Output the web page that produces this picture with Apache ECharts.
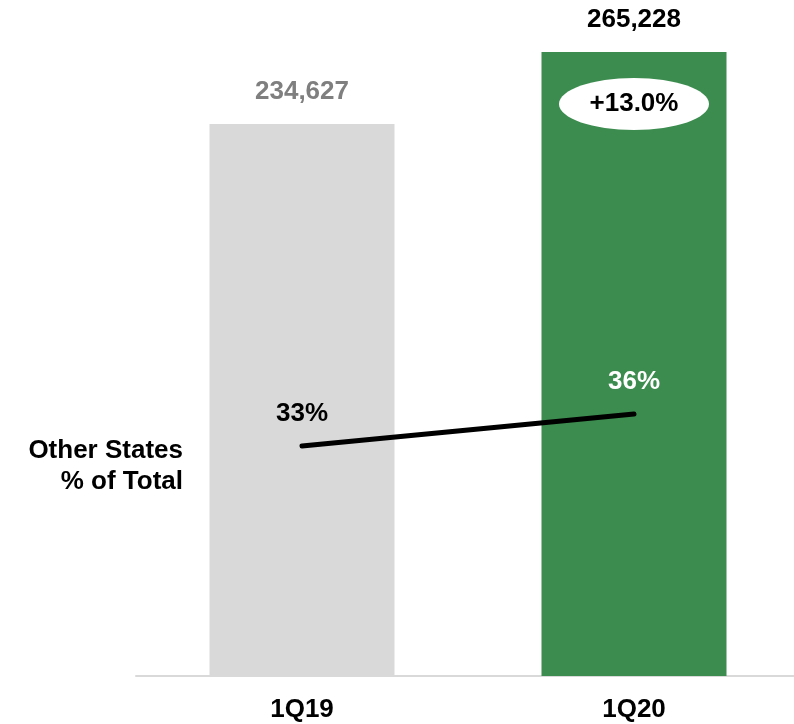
<!DOCTYPE html>
<html>
<head>
<meta charset="utf-8">
<script src="https://cdn.jsdelivr.net/npm/echarts@6/dist/echarts.min.js"></script>
<style>
  html, body { margin: 0; padding: 0; background: #ffffff; }
  #chart { width: 794px; height: 724px; }
</style>
</head>
<body>
<div id="chart"></div>
<script>
// Quarterly totals and the share from other states
const quarters = ['1Q19', '1Q20'];
const totals = [234627, 265228];
const otherStatesPct = [33, 36];
const sideLabel = ['Other States', '% of Total'];

const FONT = '"Liberation Sans", Arial, sans-serif';
const FS = 26;
const GREEN = '#3b8c4e';
const GREY = '#d9d9d9';

const fmt = v => v.toLocaleString('en-US');
const growth = (totals[1] / totals[0] - 1) * 100;
const growthText = (growth >= 0 ? '+' : '') + growth.toFixed(1) + '%';

const chart = echarts.init(document.getElementById('chart'), null, { renderer: 'canvas' });

const option = {
  animation: false,
  backgroundColor: '#ffffff',
  grid: { left: 136, width: 664, top: 52, bottom: 48, containLabel: false, outerBoundsMode: 'none' },
  xAxis: {
    type: 'category',
    data: quarters,
    axisTick: { show: false },
    axisLine: { show: true, lineStyle: { color: GREY, width: 2 } },
    axisLabel: { color: '#000', fontFamily: FONT, fontWeight: 'bold', fontSize: FS, margin: 21 }
  },
  yAxis: [
    { type: 'value', min: 0, max: totals[1], show: false, splitLine: { show: false } },
    { type: 'value', min: 11.4, max: 70, show: false, splitLine: { show: false } }
  ],
  series: [
    {
      type: 'bar',
      yAxisIndex: 0,
      barWidth: 185,
      data: totals.map((v, i) => ({
        value: v,
        itemStyle: { color: i === 0 ? GREY : GREEN },
        label: { color: i === 0 ? '#7f7f7f' : '#000' }
      })),
      label: {
        show: true,
        position: 'top',
        distance: 19,
        fontFamily: FONT,
        fontWeight: 'bold',
        fontSize: FS,
        formatter: p => fmt(p.value)
      }
    },
    {
      type: 'line',
      yAxisIndex: 1,
      data: otherStatesPct.map((v, i) => ({
        value: v,
        label: { color: i === 0 ? '#000' : '#fff' }
      })),
      symbol: 'circle',
      symbolSize: 1,
      showSymbol: true,
      itemStyle: { color: 'rgba(0,0,0,0)', borderWidth: 0 },
      lineStyle: { color: '#000', width: 5, cap: 'round' },
      label: {
        show: true,
        position: 'top',
        distance: 19,
        fontFamily: FONT,
        fontWeight: 'bold',
        fontSize: FS,
        formatter: p => p.value + '%'
      },
      emphasis: { disabled: true },
      z: 5
    }
  ]
};
chart.setOption(option);

// Growth badge inside the latest bar, and the side caption for the line
const topPt = chart.convertToPixel({ xAxisIndex: 0, yAxisIndex: 0 }, [quarters[1], totals[1]]);
const linePt = chart.convertToPixel({ xAxisIndex: 0, yAxisIndex: 1 }, [quarters[0], otherStatesPct[0]]);
chart.setOption({
  graphic: [
    {
      type: 'ellipse',
      shape: { cx: topPt[0], cy: topPt[1] + 52, rx: 75, ry: 26 },
      style: { fill: '#fff' },
      z: 10
    },
    {
      type: 'text',
      x: topPt[0],
      y: topPt[1] + 52,
      style: {
        text: growthText,
        fill: '#000',
        font: 'bold ' + FS + 'px ' + FONT,
        align: 'center',
        verticalAlign: 'middle'
      },
      z: 11
    },
    {
      type: 'text',
      x: 183,
      y: linePt[1] + 20,
      style: {
        text: sideLabel.join('\n'),
        fill: '#000',
        font: 'bold ' + FS + 'px ' + FONT,
        lineHeight: 31,
        align: 'right',
        verticalAlign: 'middle'
      },
      z: 11
    }
  ]
});
</script>
</body>
</html>
